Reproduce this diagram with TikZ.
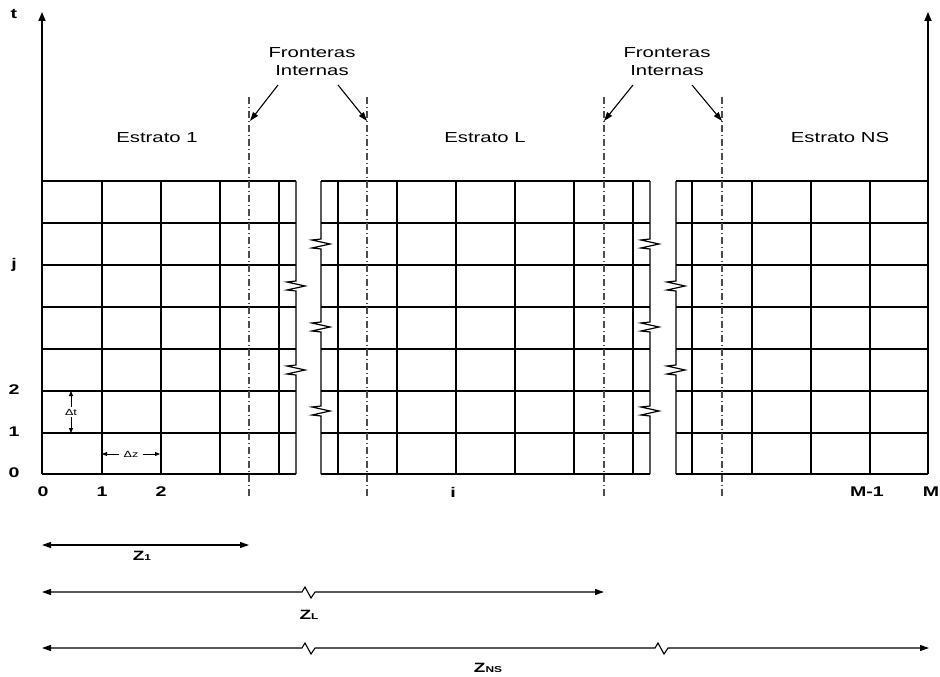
\documentclass[tikz,border=0pt]{standalone}
\usepackage{fontspec}
\setmainfont{Liberation Sans}[FakeStretch=1.4]
\usetikzlibrary{arrows.meta}
\begin{document}
\begin{tikzpicture}[x=1pt,y=-1pt,
  grid/.style={line width=1.2pt},
  axis/.style={line width=1.6pt,-{Triangle[length=9pt,width=7pt]}},
  frontier/.style={line width=1.2pt,black!70,dash pattern=on 7pt off 3pt on 1pt off 3pt},
  ptr/.style={line width=1.1pt,-{Triangle[length=9pt,width=6pt]}},
  dimarrow/.style={line width=1.1pt,{Triangle[length=9pt,width=6pt]}-{Triangle[length=9pt,width=6pt]}},
  smallarrow/.style={line width=0.9pt,-{Triangle[length=5pt,width=4pt]}},
  lbl/.style={font=\fontsize{14.5}{18}\selectfont,inner sep=0pt,align=center},
  num/.style={font=\bfseries\fontsize{14}{16}\selectfont,inner sep=0pt},
  tiny/.style={font=\fontsize{9}{10}\selectfont,inner sep=2pt},
  zlbl/.style={font=\bfseries\fontsize{13.5}{15}\selectfont,inner sep=0pt}
]
\useasboundingbox (0,0) rectangle (940,677);

% horizontal grid lines
\foreach \y in {181,223,265,307,349,391,433,474}{
  \draw[grid] (42,\y) -- (296,\y);
  \draw[grid] (321,\y) -- (650,\y);
  \draw[grid] (676,\y) -- (928,\y);
}
% interior vertical lines
\foreach \x in {102,161,220,279}{\draw[grid] (\x,181) -- (\x,474);}
\foreach \x in {338,397,456,515,574,633}{\draw[grid] (\x,181) -- (\x,474);}
\foreach \x in {692,752,811,870}{\draw[grid] (\x,181) -- (\x,474);}

% broken edges
\draw[grid] (296,181) -- (296,281) -- (287,282) -- (305,286) -- (287,290) -- (296,291)
  -- (296,365) -- (287,366) -- (305,370) -- (287,374) -- (296,375) -- (296,474);
\draw[grid] (321,181) -- (321,239) -- (312,240) -- (330,244) -- (312,248) -- (321,249)
  -- (321,322) -- (312,323) -- (330,327) -- (312,331) -- (321,332)
  -- (321,406) -- (312,407) -- (330,411) -- (312,415) -- (321,416) -- (321,474);
\draw[grid] (650,181) -- (650,239) -- (641,240) -- (659,244) -- (641,248) -- (650,249)
  -- (650,322) -- (641,323) -- (659,327) -- (641,331) -- (650,332)
  -- (650,406) -- (641,407) -- (659,411) -- (641,415) -- (650,416) -- (650,474);
\draw[grid] (676,181) -- (676,281) -- (667,282) -- (685,286) -- (667,290) -- (676,291)
  -- (676,365) -- (667,366) -- (685,370) -- (667,374) -- (676,375) -- (676,474);

% axes
\coordinate (o) at (42,474);
\coordinate (ttop) at (42,12);
\coordinate (m) at (928,474);
\coordinate (mtop) at (928,12);
\draw[axis] (o) -- (ttop);
\draw[axis] (m) -- (mtop);

% internal frontiers
\foreach \x/\n in {249/b1,367/b2,604/b3,722/b4}{
  \coordinate (\n top) at (\x,97);
  \coordinate (\n bot) at (\x,497);
  \draw[frontier] (\n top) -- (\n bot);
}

% Fronteras labels and pointers
\node[lbl] (f1) at (312,62) {Fronteras\\Internas};
\node[lbl] (f2) at (667,62) {Fronteras\\Internas};
\coordinate (p1s) at (278,85); \coordinate (p1e) at (250,121);
\coordinate (p2s) at (338,85); \coordinate (p2e) at (367,121);
\coordinate (p3s) at (633,85); \coordinate (p3e) at (604,121);
\coordinate (p4s) at (692,85); \coordinate (p4e) at (722,121);
\draw[ptr] (p1s) -- (p1e);
\draw[ptr] (p2s) -- (p2e);
\draw[ptr] (p3s) -- (p3e);
\draw[ptr] (p4s) -- (p4e);

% strata labels
\node[lbl] (e1) at (157,138) {Estrato 1};
\node[lbl] (eL) at (485,138) {Estrato L};
\node[lbl] (eNS) at (840,138) {Estrato NS};

% axis labels
\node[num] (tl) at (14,14) {t};
\node[num] (jl) at (14,265) {j};
\node[num] (y2) at (14,390) {2};
\node[num] (y1) at (14,432) {1};
\node[num] (y0) at (14,473) {0};
\node[num] (x0) at (43,492) {0};
\node[num] (x1) at (102,492) {1};
\node[num] (x2) at (161,492) {2};
\node[num] (xi) at (453,492) {i};
\node[num] (xm1) at (867,492) {M-1};
\node[num] (xm) at (931,492) {M};

% delta t and delta z
\node[tiny] (dt) at (71,412) {Δt};
\coordinate (dttop) at (71,391);
\coordinate (dtbot) at (71,433);
\draw[smallarrow] (dt.north) -- (dttop);
\draw[smallarrow] (dt.south) -- (dtbot);
\node[tiny,inner sep=4pt] (dz) at (131,454) {Δz};
\coordinate (dzl) at (102,454);
\coordinate (dzr) at (160,454);
\draw[smallarrow] (dz.west) -- (dzl);
\draw[smallarrow] (dz.east) -- (dzr);

% dimension arrows
\coordinate (z1l) at (42,545); \coordinate (z1r) at (249,545);
\draw[dimarrow] (z1l) -- (z1r);
\node[zlbl] (z1) at (142,556) {Z{\fontsize{8.5}{9}\selectfont 1}};

\coordinate (zLl) at (42,592); \coordinate (zLr) at (604,592);
\draw[dimarrow] (zLl) -- (302,592) -- (305,587) -- (311,598) -- (315,592) -- (zLr);
\node[zlbl] (zL) at (309,615) {Z{\fontsize{8.5}{9}\selectfont L}};

\coordinate (zNl) at (42,648); \coordinate (zNr) at (929,648);
\draw[dimarrow] (zNl) -- (302,648) -- (305,643) -- (311,654) -- (315,648)
  -- (655,648) -- (658,643) -- (664,654) -- (668,648) -- (zNr);
\node[zlbl] (zN) at (488,668) {Z{\fontsize{8.5}{9}\selectfont NS}};
\end{tikzpicture}
\end{document}
